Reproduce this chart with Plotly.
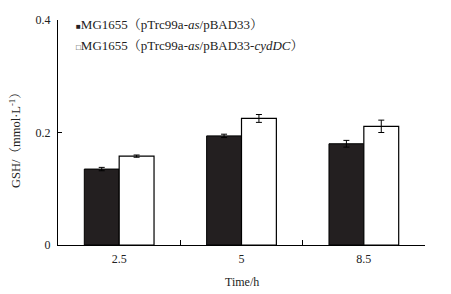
import plotly.graph_objects as go

categories = ["2.5", "5", "8.5"]
series1_name = "MG1655（pTrc99a-<i>as</i>/pBAD33）"
series1_values = [0.135, 0.194, 0.180]
series1_err = [0.003, 0.003, 0.006]
series2_name = "MG1655（pTrc99a-<i>as</i>/pBAD33-<i>cydDC</i>）"
series2_values = [0.158, 0.225, 0.211]
series2_err = [0.002, 0.007, 0.011]
y_tickvals = [0, 0.2, 0.4]
y_ticktext = ["0", "0.2", "0.4"]

FONT = "Liberation Serif, Times New Roman, Noto Serif CJK SC, serif"

# page body has an 8px default margin; compensate
OFF = 8
W, H = 451 - OFF, 294 - OFF
L, T = 58 - OFF, 20 - OFF
R = W - (425 - OFF)
B = H - (245 - OFF)
pw = W - L - R
ph = H - T - B

fig = go.Figure()
fig.add_trace(go.Bar(
    x=categories, y=series1_values, name=series1_name,
    marker=dict(color="#231f20", line=dict(color="#000000", width=1)),
    error_y=dict(type="data", array=series1_err, color="#000000", thickness=1, width=3),
    showlegend=False,
))
fig.add_trace(go.Bar(
    x=categories, y=series2_values, name=series2_name,
    marker=dict(color="#ffffff", line=dict(color="#000000", width=1.2)),
    error_y=dict(type="data", array=series2_err, color="#000000", thickness=1, width=3),
    showlegend=False,
))

def px_x(p):
    return (p - OFF - L) / pw

def px_y(p):
    return 1 - (p - OFF - T) / ph

MK = '<span style="font-size:8px">{}</span>'

annotations = [
    dict(text=MK.format("■") + series1_name, x=px_x(74), y=px_y(24), xref="paper", yref="paper",
         xanchor="left", yanchor="middle", showarrow=False,
         font=dict(family=FONT, size=13, color="#222")),
    dict(text=MK.format("□") + series2_name, x=px_x(74), y=px_y(46), xref="paper", yref="paper",
         xanchor="left", yanchor="middle", showarrow=False,
         font=dict(family=FONT, size=13, color="#222")),
    dict(text="Time/h", x=0.5, y=px_y(282), xref="paper", yref="paper",
         xanchor="center", yanchor="middle", showarrow=False,
         font=dict(family=FONT, size=12, color="#222")),
    dict(text="GSH/（mmol·L<sup>-1</sup>）", x=px_x(15), y=px_y(137), xref="paper", yref="paper",
         xanchor="center", yanchor="middle", showarrow=False, textangle=-90,
         font=dict(family=FONT, size=12.5, color="#222")),
]

fig.update_layout(
    width=W, height=H,
    margin=dict(l=L, r=R, t=T, b=B, autoexpand=False),
    paper_bgcolor="white", plot_bgcolor="white",
    barmode="group", bargap=0.43, bargroupgap=0,
    font=dict(family=FONT, size=12, color="#222"),
    annotations=annotations,
)
fig.update_xaxes(
    type="category", range=[-0.5, 2.5],
    showline=True, linecolor="#000", linewidth=1,
    ticks="inside", tickson="boundaries", ticklen=5, tickcolor="#000",
    showgrid=False, zeroline=False, automargin=False,
    ticklabelstandoff=3,
    tickfont=dict(family=FONT, size=12, color="#222"),
)
fig.update_yaxes(
    range=[0, 0.4], tickvals=y_tickvals, ticktext=y_ticktext,
    showline=True, linecolor="#000", linewidth=1,
    ticks="inside", ticklen=4, tickcolor="#000",
    showgrid=False, zeroline=False, automargin=False,
    ticklabelstandoff=4,
    tickfont=dict(family=FONT, size=12, color="#222"),
)

fig.write_html("out.html")
